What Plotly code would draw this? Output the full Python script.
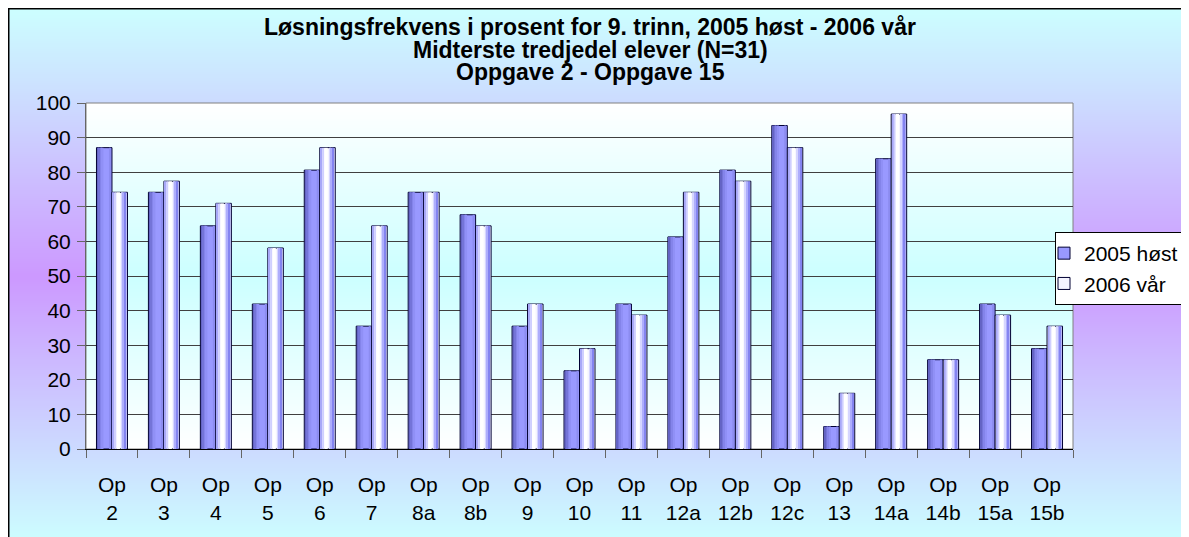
import base64, struct, zlib
import plotly.graph_objects as go

# ---------------- data ----------------
labels = ["2", "3", "4", "5", "6", "7", "8a", "8b", "9", "10", "11",
          "12a", "12b", "12c", "13", "14a", "14b", "15a", "15b"]
host_2005 = [87.1, 74.2, 64.5, 41.9, 80.6, 35.5, 74.2, 67.7, 35.5, 22.6, 41.9,
             61.3, 80.6, 93.5, 6.5, 83.9, 25.8, 41.9, 29.0]
var_2006 = [74.2, 77.4, 71.0, 58.1, 87.1, 64.5, 74.2, 64.5, 41.9, 29.0, 38.7,
            74.2, 77.4, 87.1, 16.1, 96.8, 25.8, 38.7, 35.5]
series_names = ["2005 høst", "2006 vår"]
title_lines = ["Løsningsfrekvens i prosent for 9. trinn, 2005 høst - 2006 vår",
               "Midterste tredjedel elever (N=31)",
               "Oppgave 2 - Oppgave 15"]

cats = [f"Op<br>{l}" for l in labels]

# ---------------- geometry (figure pixels; page body margin is 8px) ----------------
OFF = 8
W, H = 1189, 537
L = 86 - OFF
T = 103 - OFF
R = W - (1073 - OFF)
B = H - (449 - OFF)
PW, PH = W - L - R, H - T - B
cat_px = PW / len(cats)
u = 1.0 / cat_px  # category units per pixel

def px_x(p):  # window pixel -> paper x
    return (p - OFF - L) / PW

def px_y(p):  # window pixel -> paper y
    return 1 - (p - OFF - T) / PH

# ---------------- gradient png helper ----------------
def png_vgrad(stops, n=256):
    def col(t):
        for i in range(len(stops) - 1):
            t0, c0 = stops[i]
            t1, c1 = stops[i + 1]
            if t0 <= t <= t1:
                f = (t - t0) / (t1 - t0) if t1 > t0 else 0
                return tuple(int(round(c0[k] + (c1[k] - c0[k]) * f)) for k in range(3))
        return stops[-1][1]
    raw = b""
    for r in range(n):
        c = col(r / (n - 1))
        raw += b"\x00" + bytes(c) * 2
    def chunk(tag, data):
        return struct.pack(">I", len(data)) + tag + data + struct.pack(">I", zlib.crc32(tag + data) & 0xffffffff)
    png = b"\x89PNG\r\n\x1a\n" + chunk(b"IHDR", struct.pack(">IIBBBBB", 2, n, 8, 2, 0, 0, 0))
    png += chunk(b"IDAT", zlib.compress(raw)) + chunk(b"IEND", b"")
    return "data:image/png;base64," + base64.b64encode(png).decode()

outer_bg = png_vgrad([(0, (204, 255, 255)), (0.5, (204, 153, 255)), (1, (204, 255, 255))])
plot_bg = png_vgrad([(0, (255, 255, 255)), (0.5, (204, 255, 255)), (1, (255, 255, 255))])

fig = go.Figure()

BW = 15.5  # bar width in px
fig.add_trace(go.Bar(x=cats, y=host_2005, name=series_names[0],
                     offset=-BW * u, width=BW * u,
                     marker=dict(color="#9999ff", line=dict(color="#000033", width=1)),
                     opacity=1))
fig.add_trace(go.Bar(x=cats, y=var_2006, name=series_names[1],
                     offset=0, width=BW * u,
                     marker=dict(color="#f4f4ff", line=dict(color="#000033", width=1)),
                     opacity=1))

# shading strips imitating the cylinder gradient
strips_2005 = [(1, 2.5, "#6464c4"), (2.5, 4, "#7474d8"), (4, 5.5, "#8484ea"),
               (5.5, 7, "#9090f6"), (12.5, 14.5, "#8c8cf0")]
strips_2006 = [(1, 2.5, "#a8a8f8"), (2.5, 4.5, "#cfcfff"), (4.5, 8, "#ffffff"),
               (9.5, 11, "#d6d6ff"), (11, 12.8, "#aeaefc"), (12.8, 14.5, "#8484f0")]
for a, b, c in strips_2005:
    fig.add_trace(go.Bar(x=cats, y=host_2005, showlegend=False, hoverinfo="skip",
                         offset=(-BW + a) * u, width=(b - a) * u,
                         marker=dict(color=c, line=dict(width=0)), opacity=1))
for a, b, c in strips_2006:
    fig.add_trace(go.Bar(x=cats, y=var_2006, showlegend=False, hoverinfo="skip",
                         offset=a * u, width=(b - a) * u,
                         marker=dict(color=c, line=dict(width=0)), opacity=1))

font_family = "Liberation Sans, Arial, sans-serif"

annotations = []
title_y = [27.5, 50, 72.5]
for txt, yy in zip(title_lines, title_y):
    annotations.append(dict(text=f"<b>{txt}</b>", xref="paper", yref="paper",
                            x=px_x(590), y=px_y(yy), xanchor="center", yanchor="middle",
                            showarrow=False, font=dict(size=23, color="black", family=font_family)))

fig.update_layout(
    width=W, height=H,
    margin=dict(l=L, r=R, t=T, b=B, autoexpand=False),
    paper_bgcolor="white",
    plot_bgcolor="rgba(0,0,0,0)",
    barmode="overlay",
    font=dict(family=font_family, size=21, color="black"),
    showlegend=True,
    legend=dict(x=px_x(1055), y=px_y(232), xanchor="left", yanchor="top",
                bgcolor="white", bordercolor="black", borderwidth=1,
                font=dict(size=21, color="black"), indentation=-12,
                itemwidth=30, tracegroupgap=0),
    annotations=annotations,
    images=[
        dict(source=outer_bg, xref="paper", yref="paper", x=px_x(OFF), y=px_y(OFF),
             sizex=px_x(W + OFF) - px_x(OFF), sizey=px_y(OFF) - px_y(H + OFF),
             xanchor="left", yanchor="top", sizing="stretch", layer="below"),
        dict(source=plot_bg, xref="paper", yref="paper", x=0, y=1, sizex=1, sizey=1,
             xanchor="left", yanchor="top", sizing="stretch", layer="below"),
    ],
    shapes=[
        dict(type="rect", xref="paper", yref="paper", x0=px_x(OFF + 0.75), y0=px_y(H + OFF + 5),
             x1=px_x(W + OFF + 5), y1=px_y(OFF + 0.75), line=dict(color="black", width=1.5),
             fillcolor="rgba(0,0,0,0)", layer="above"),
        dict(type="rect", xref="paper", yref="paper", x0=0, y0=0, x1=1, y1=1,
             line=dict(color="#808080", width=1), fillcolor="rgba(0,0,0,0)", layer="below"),
    ],
    xaxis=dict(type="category", showline=True, linecolor="black", linewidth=1,
               ticks="outside", ticklen=8, tickcolor="#666666", tickson="boundaries",
               showgrid=False, zeroline=False, ticklabelstandoff=17,
               tickfont=dict(size=21), range=[-0.5, len(cats) - 0.5]),
    yaxis=dict(range=[0, 100], dtick=10, showline=True, linecolor="#666666", linewidth=1,
               ticks="outside", ticklen=8, tickcolor="#666666",
               showgrid=True, gridcolor="#404040", gridwidth=1, zeroline=False,
               tickfont=dict(size=21), ticklabelstandoff=2),
)

fig.write_html("out.html")
